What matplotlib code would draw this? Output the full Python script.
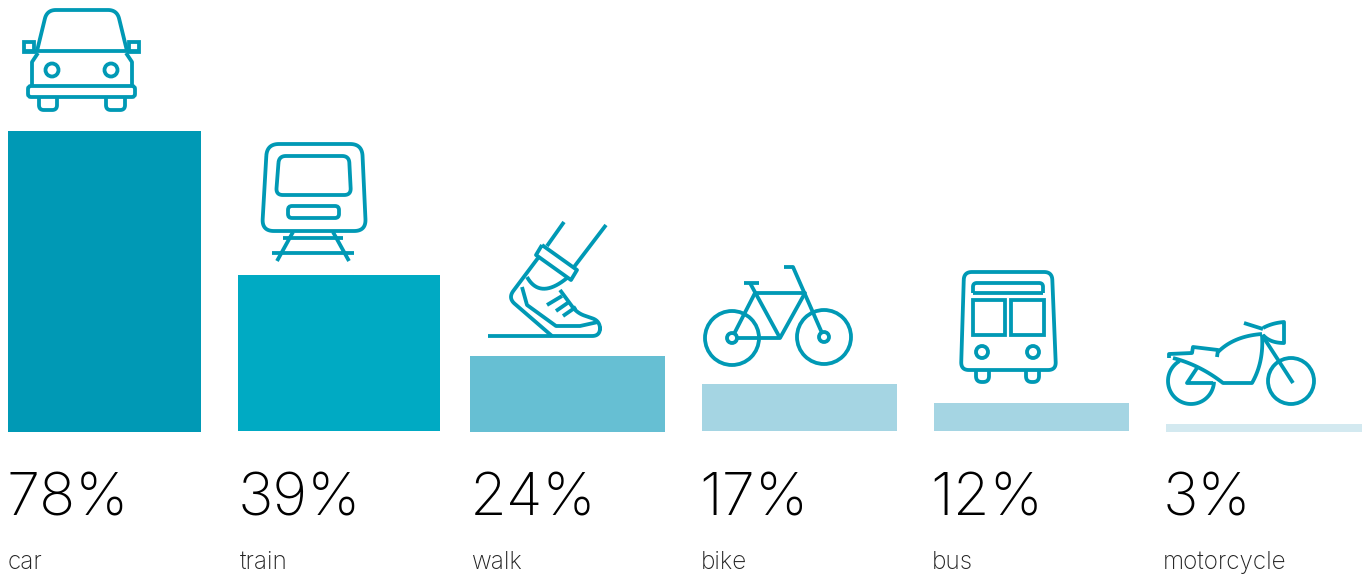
import numpy as np
import matplotlib
matplotlib.use("Agg")
import matplotlib.pyplot as plt
from matplotlib.patches import Circle, FancyBboxPatch

# values
modes = ["car", "train", "walk", "bike", "bus", "motorcycle"]
percent = [78, 39, 24, 17, 12, 3]
# drawn bar heights differ from the percentages, so they are read separately
bar_heights = [301, 156, 76, 47, 28, 8]
bar_bottoms = [432, 431, 432, 431, 431, 432]
bar_lefts = [8, 238, 470, 702, 934, 1166]
bar_widths = [193, 202, 195, 195, 195, 196]
bar_colors = ["#0099b5", "#00aac3", "#66bfd3", "#a5d5e3", "#a5d5e3", "#d3e9f0"]
pct_x = [6, 238, 470, 699, 930, 1163]
label_x = [8, 240, 471, 701, 932, 1163]

ICON = "#0099b5"
LW = 3.8 * 0.72

fig = plt.figure(figsize=(13.68, 5.75), dpi=100)
ax = fig.add_axes([0, 0, 1, 1])
ax.set_xlim(0, 1368)
ax.set_ylim(575, 0)
ax.axis("off")

ax.bar(bar_lefts, [-h for h in bar_heights], bar_widths, bottom=bar_bottoms,
       color=bar_colors, align="edge", linewidth=0)

for x, p in zip(pct_x, percent):
    ax.text(x, 516, f"{p}%", fontsize=43, family="Inter", weight="light",
            color="#000000", ha="left", va="baseline")
for x, m in zip(label_x, modes):
    ax.text(x, 569, m, fontsize=17.5, family="Inter", weight="light",
            color="#222222", ha="left", va="baseline")


def line(pts, lw=LW, **kw):
    xs, ys = zip(*pts)
    ax.plot(xs, ys, color=ICON, lw=lw, solid_capstyle="butt",
            solid_joinstyle=kw.pop("join", "round"), **kw)


def circ(cx, cy, r, lw=LW):
    ax.add_patch(Circle((cx, cy), r, fill=False, ec=ICON, lw=lw))


def rrect(x0, y0, x1, y1, r, lw=LW):
    ax.add_patch(FancyBboxPatch((x0 + r, y0 + r), x1 - x0 - 2 * r, y1 - y0 - 2 * r,
                                boxstyle=f"round,pad={r},rounding_size={r}",
                                fill=False, ec=ICON, lw=lw))


def curve(a, c, b):
    # quadratic bend from a to b pulled toward c
    a, c, b = np.array(a, float), np.array(c, float), np.array(b, float)
    return [(1 - t) ** 2 * a + 2 * t * (1 - t) * c + t ** 2 * b for t in np.linspace(0, 1, 20)]


def rounded(pts, r, closed=True):
    # polygon with corners rounded by quadratic bends
    pts = np.array(pts, float)
    n = len(pts)
    out = []
    idx = range(n) if closed else range(1, n - 1)
    if not closed:
        out.append(pts[0])
    for i in idx:
        p, a, b = pts[i], pts[i - 1], pts[(i + 1) % n]
        d1 = (a - p) / np.linalg.norm(a - p)
        d2 = (b - p) / np.linalg.norm(b - p)
        out += curve(p + d1 * r, p, p + d2 * r)
    out.append(out[0] if closed else pts[-1])
    line(out)


# car
rounded([(37, 51), (47, 10), (117, 10), (127, 51)], 9, closed=False)
line([(23, 51), (140, 51)])
ax.add_patch(plt.Rectangle((24, 42), 10, 10, fill=False, ec=ICON, lw=LW))
ax.add_patch(plt.Rectangle((129, 42), 10, 10, fill=False, ec=ICON, lw=LW))
line([(38, 53), (32, 62), (32, 86)])
line([(126, 53), (132, 62), (132, 86)])
circ(52, 70, 6.5)
circ(111, 70, 6.5)
rrect(28, 86, 135, 97, 3)
rounded([(39, 97), (39, 110), (57, 110), (57, 97)], 5, closed=False)
rounded([(106, 97), (106, 110), (125, 110), (125, 97)], 5, closed=False)

# train
rounded([(267, 144), (362, 144), (366, 231), (262, 231)], 12)
rounded([(279, 156), (349, 156), (351, 195), (276, 195)], 7)
rrect(288, 206, 339, 218, 4)
line([(283, 238), (343, 238)])
line([(272, 253), (354, 253)])
line([(293, 232), (277, 261)])
line([(333, 232), (349, 261)])

# walk
line([(564, 222), (547, 246)])
line([(606, 225), (574, 267)])
line([(542, 245), (577, 270), (571, 280), (536, 255), (542, 245)])
rounded([(488, 336), (600, 336), (600, 321), (577, 313), (560, 290)], 8, closed=False)
rounded([(538, 258), (508, 298), (552, 336)], 9, closed=False)
line(curve((527, 277), (540, 300), (567, 278)))
line([(522, 287), (527, 305), (556, 326), (580, 326), (598, 322)])
line([(547, 305), (562, 296)])
line([(556, 311), (569, 302)])
line([(563, 316), (576, 307)])

# bike
circ(732, 338, 27)
circ(824, 337, 27)
circ(732, 338, 5)
circ(824, 337, 5)
line([(736, 338), (780, 338), (805, 293), (755, 293), (734, 334)])
line([(744, 283), (759, 283)])
line([(750, 283), (780, 338)])
line([(784, 267), (793, 267), (822, 333)])

# bus
rounded([(964, 272), (1052, 272), (1056, 370), (961, 370)], 8)
rounded([(973, 293), (973, 283), (1043, 283), (1043, 293)], 4, closed=False)
line([(973, 293), (1043, 293)])
ax.add_patch(plt.Rectangle((973, 300), 32, 35, fill=False, ec=ICON, lw=LW))
ax.add_patch(plt.Rectangle((1011, 300), 33, 35, fill=False, ec=ICON, lw=LW))
circ(982, 352, 6)
circ(1033, 352, 6)
rounded([(976, 370), (976, 382), (989, 382), (989, 370)], 6, closed=False)
rounded([(1026, 370), (1026, 382), (1039, 382), (1039, 370)], 6, closed=False)

# motorcycle
t = np.radians(np.linspace(240, 2, 60))
line(list(zip(1191 + 23 * np.cos(t), 381 + 23 * np.sin(t))))
circ(1291, 381, 23)
line([(1262, 335), (1293, 383)])
line([(1244, 323), (1263, 329)])
line(curve((1263, 328), (1272, 323), (1284, 322)) + [(1284, 343)] + curve((1284, 343), (1270, 343), (1263, 335)))
line(curve((1218, 352), (1234, 336), (1262, 334)))
line(curve((1262, 335), (1264, 362), (1252, 383)) + [(1223, 383)] + curve((1223, 383), (1200, 365), (1173, 358)))
line([(1169, 358), (1169, 354), (1192, 353), (1193, 347), (1218, 350), (1217, 357)])
line([(1197, 368), (1187, 383), (1213, 383)])

fig.savefig("out.png", dpi=100)
